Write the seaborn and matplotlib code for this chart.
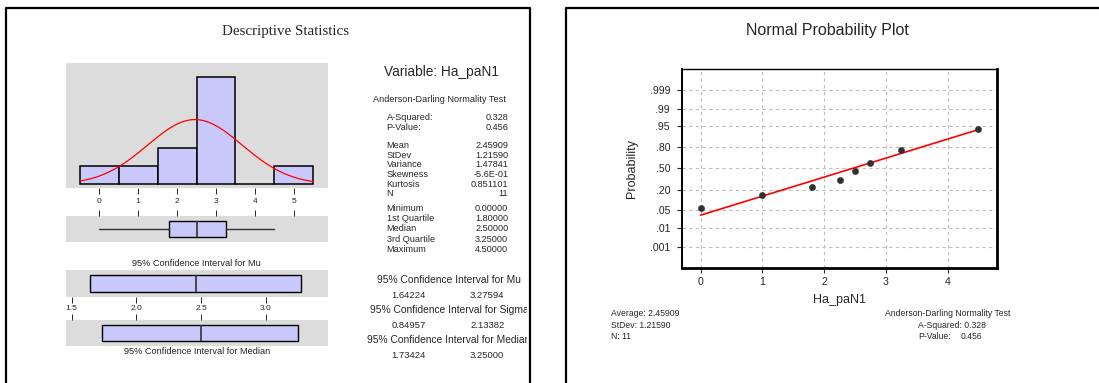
from statistics import NormalDist

import matplotlib
matplotlib.use("Agg")
import matplotlib.pyplot as plt
import numpy as np
import seaborn as sns
from matplotlib.transforms import Bbox, TransformedBbox

# sample (Ha_paN1) and its summary
values = [0.0, 1.0, 1.8, 2.25, 2.5, 2.5, 2.75, 3.25, 3.25, 3.25, 4.5]
bin_edges = [-0.5, 0.5, 1.5, 2.5, 3.5, 4.5, 5.5]
mean = 2.45909
stdev = 1.21590
five_num = [0.0, 1.8, 2.5, 3.25, 4.5]
mu_ci = [1.64224, 3.27594]
median_ci = [1.73424, 3.25]

# normal probability plot
prob_x = [0, 1, 1.8, 2.25, 2.5, 2.75, 3.25, 4.5]
prob_p = [0.061, 0.149, 0.237, 0.325, 0.456, 0.588, 0.763, 0.939]
fit_x = [0, 4.5]
fit_p = [0.033, 0.936]
prob_ticks = [0.001, 0.01, 0.05, 0.20, 0.50, 0.80, 0.95, 0.99, 0.999]
prob_labels = [".001", ".01", ".05", ".20", ".50", ".80", ".95", ".99", ".999"]

ad_rows = [("A-Squared:", "0.328"), ("P-Value:", "0.456")]
moment_rows = [("Mean", "2.45909"), ("StDev", "1.21590"), ("Variance", "1.47841"),
               ("Skewness", "-5.6E-01"), ("Kurtosis", "0.851101"), ("N", "11")]
quant_rows = [("Minimum", "0.00000"), ("1st Quartile", "1.80000"), ("Median", "2.50000"),
              ("3rd Quartile", "3.25000"), ("Maximum", "4.50000")]
ci_rows = [("95% Confidence Interval for Mu", "1.64224", "3.27594"),
           ("95% Confidence Interval for Sigma", "0.84957", "2.13382"),
           ("95% Confidence Interval for Median", "1.73424", "3.25000")]

sns.set_style("white")
plt.rcParams["font.family"] = ["Liberation Sans", "DejaVu Sans"]

W, H = 1099, 383
fig = plt.figure(figsize=(W / 100, H / 100), dpi=100)

GRAY = "#DCDCDC"
LAV = "#C8C8FA"


def px_axes(x0, y0, x1, y1):
    return fig.add_axes([x0 / W, 1 - y1 / H, (x1 - x0) / W, (y1 - y0) / H])


def txt(x, y, s, **kw):
    kw.setdefault("va", "center")
    return fig.text(x / W, 1 - y / H, s, **kw)


# panel frames
for x0, x1 in [(6, 530), (566, 1120)]:
    fig.add_artist(plt.Line2D([x0 / W, x0 / W, x1 / W, x1 / W], [-0.1, 1 - 8 / H, 1 - 8 / H, -0.1],
                              color="black", lw=1.6, transform=fig.transFigure))

# ---------------- left panel ----------------
txt(285, 31, "Descriptive Statistics", ha="center", family="Liberation Serif", fontsize=10.8)

ax = px_axes(66, 63, 328, 188)
sns.histplot(x=values, bins=bin_edges, color=LAV, edgecolor="black", linewidth=1.1, alpha=1, ax=ax)
nd = NormalDist(mean, stdev)
xs = np.linspace(-0.5, 5.5, 200)
ax.plot(xs, [nd.pdf(v) * len(values) for v in xs], color="red", lw=0.9)
ax.set_xlim(-0.856, 5.88)
ax.set_ylim(-0.2, 6.76)
ax.set_facecolor(GRAY)
ax.set_xticks(range(6))
ax.set_yticks([])
ax.set_xlabel("")
ax.set_ylabel("")
ax.tick_params(axis="x", direction="out", length=4.3, width=0.7, labelsize=6, pad=3, bottom=True)
sns.despine(ax=ax, left=True, bottom=True)

box_style = dict(patch_artist=True, showcaps=False, orientation="horizontal",
                 boxprops=dict(facecolor=LAV, edgecolor="black", lw=1.0),
                 medianprops=dict(color="#333333", lw=1.2),
                 whiskerprops=dict(color="#333333", lw=1.0))

ax = px_axes(66, 216, 328, 241.7)
ax.bxp([dict(whislo=five_num[0], q1=five_num[1], med=five_num[2], q3=five_num[3],
             whishi=five_num[4], fliers=[])], widths=0.646, **box_style)
ax.set_xlim(-0.856, 5.88)
ax.set_ylim(0.5, 1.5)
ax.set_facecolor(GRAY)
ax.set_yticks([])
ax.set_xticks(range(6))
ax.tick_params(axis="x", top=True, bottom=False, labeltop=False, labelbottom=False,
               direction="out", length=4, width=0.7)
sns.despine(ax=ax, left=True, bottom=True)

txt(196.7, 264, "95% Confidence Interval for Mu", ha="center", fontsize=6.6, color="#222222")

ax = px_axes(66, 270, 328, 296.7)
ax.bxp([dict(whislo=mu_ci[0], q1=mu_ci[0], med=mean, q3=mu_ci[1], whishi=mu_ci[1], fliers=[])],
       widths=0.625, **box_style)
ax.set_xlim(1.456, 3.481)
ax.set_ylim(0.5, 1.5)
ax.set_facecolor(GRAY)
ax.set_yticks([])
ax.set_xticks([1.5, 2.0, 2.5, 3.0])
ax.set_xticklabels(["1.5", "2.0", "2.5", "3.0"])
ax.tick_params(axis="x", direction="out", length=4, width=0.7, labelsize=6, pad=2, bottom=True)
sns.despine(ax=ax, left=True, bottom=True)

ax = px_axes(66, 320, 328, 346)
ax.bxp([dict(whislo=median_ci[0], q1=median_ci[0], med=five_num[2], q3=median_ci[1],
             whishi=median_ci[1], fliers=[])], widths=0.64, **box_style)
ax.set_xlim(1.456, 3.481)
ax.set_ylim(0.5, 1.5)
ax.set_facecolor(GRAY)
ax.set_yticks([])
ax.set_xticks([1.5, 2.0, 2.5, 3.0])
ax.tick_params(axis="x", top=True, bottom=False, labeltop=False, labelbottom=False,
               direction="out", length=4, width=0.7)
sns.despine(ax=ax, left=True, bottom=True)

txt(196.7, 351.7, "95% Confidence Interval for Median", ha="center", fontsize=6.6, color="#222222")

# summary column
clip = TransformedBbox(Bbox.from_extents(0, 0, 527 / W, 1), fig.transFigure)
txt(384, 71.7, "Variable: Ha_paN1", fontsize=9.8)
txt(372.7, 100, "Anderson-Darling Normality Test", fontsize=6.6)
y = 117.7
for rows, step, gap in [(ad_rows, 9.6, 18.4), (moment_rows, 9.6, 14.6), (quant_rows, 10.3, 0)]:
    for lab, val in rows:
        txt(386.7, y, lab, fontsize=6.6)
        txt(508.3, y, val, ha="right", fontsize=6.6)
        y += step
    y += gap - step
y = 280
for head, lo, hi in ci_rows:
    t = txt(449, y, head, ha="center", fontsize=7.4)
    t.set_clip_box(clip)
    t.set_clip_on(True)
    txt(391.7, y + 15, lo, fontsize=6.8)
    txt(470, y + 15, hi, fontsize=6.8)
    y += 30

# ---------------- right panel ----------------
std = NormalDist()
txt(827.6, 30, "Normal Probability Plot", ha="center", fontsize=11.5)

ax = px_axes(682, 69, 997, 267.7)
ax.grid(True, color="#BDBDBD", lw=0.8, ls=(0, (3, 3)))
ax.set_axisbelow(True)
sns.lineplot(x=fit_x, y=[std.inv_cdf(p) for p in fit_p], color="red", lw=1.2, ax=ax)
sns.scatterplot(x=prob_x, y=[std.inv_cdf(p) for p in prob_p], color="#303030",
                edgecolor="#303030", s=20, ax=ax, zorder=3)
ax.set_xlim(-0.3, 4.8)
ax.set_ylim(-3.9, 3.9)
ax.set_xticks(range(5))
ax.set_yticks([std.inv_cdf(p) for p in prob_ticks])
ax.set_yticklabels(prob_labels)
ax.tick_params(direction="out", length=3.6, width=0.8, labelsize=7.6, left=True, bottom=True)
ax.tick_params(axis="y", pad=5)
ax.tick_params(axis="x", pad=3.4)
for side, lw in [("top", 1.0), ("left", 1.4), ("right", 2.0), ("bottom", 2.0)]:
    ax.spines[side].set_color("black")
    ax.spines[side].set_linewidth(lw)
ax.set_xlabel("Ha_paN1", fontsize=9, labelpad=5)
ax.set_ylabel("Probability", fontsize=9, labelpad=8)

txt(611, 314, "Average: 2.45909", fontsize=6.2)
txt(611, 325.3, "StDev: 1.21590", fontsize=6.2)
txt(611, 336.3, "N: 11", fontsize=6.2)
txt(885.4, 314, "Anderson-Darling Normality Test", fontsize=6.2)
txt(917.8, 325.3, "A-Squared: 0.328", fontsize=6.2)
txt(917.8, 336.3, "P-Value:", fontsize=6.2)
txt(960.8, 336.3, "0.456", fontsize=6.2)

fig.savefig("out.png", dpi=100)
